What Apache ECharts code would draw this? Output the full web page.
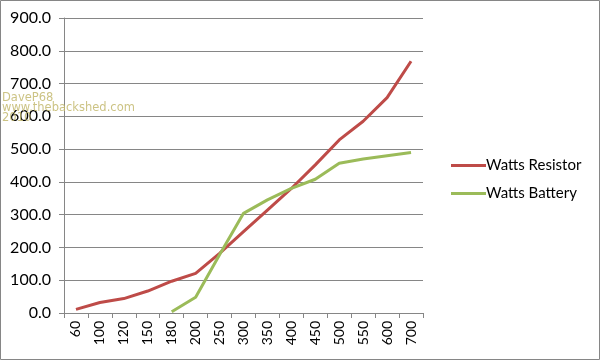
<!DOCTYPE html>
<html><head><meta charset="utf-8">
<script src="https://cdn.jsdelivr.net/npm/echarts@6/dist/echarts.min.js"></script>
<style>html,body{margin:0;padding:0;background:#fff}#c{width:601px;height:361px}</style>
</head><body><div id="c"></div>
<script>
const categories = ['60','100','120','150','180','200','250','300','350','400','450','500','550','600','700'];
const wattsResistor = [11,32,44,67,97,121,182,248,314,380,452,528,585,657,768];
const wattsBattery = [null,null,null,null,4,48,178,304,345,380,408,457,470,480,490];
const yTicks = {min:0, max:900, interval:100};
const watermark = ['DaveP68','www.thebackshed.com','2010'];

const FONT = 'Lato, "Open Sans", sans-serif';
const chart = echarts.init(document.getElementById('c'), null, {renderer:'canvas'});
chart.setOption({
  animation:false,
  backgroundColor:'#fff',
  grid:{left:64, right:178, top:18, bottom:48, containLabel:false},
  legend:{
    orient:'vertical', left:446, top:153, itemGap:13,
    itemWidth:35, itemHeight:15,
    icon:'path://M0,0L35,0L35,3L0,3Z',
    textStyle:{fontFamily:FONT, fontSize:15, color:'#000', padding:[0,0,0,-5]},
    data:['Watts Resistor','Watts Battery']
  },
  xAxis:{
    type:'category', data:categories, boundaryGap:true,
    axisLine:{lineStyle:{color:'#868686', width:1}},
    axisTick:{show:true, alignWithLabel:false, length:5, lineStyle:{color:'#868686'}},
    axisLabel:{rotate:90, fontFamily:FONT, fontSize:14, color:'#000', margin:8, interval:0}
  },
  yAxis:{
    type:'value', min:yTicks.min, max:yTicks.max, interval:yTicks.interval,
    axisLine:{show:true, lineStyle:{color:'#868686'}},
    axisTick:{show:true, length:5, lineStyle:{color:'#868686'}},
    splitLine:{lineStyle:{color:'#868686', width:1}},
    axisLabel:{fontFamily:FONT, fontSize:16, color:'#000', margin:13, formatter:v=>v.toFixed(1)}
  },
  series:[
    {name:'Watts Resistor', type:'line', data:wattsResistor, symbol:'none',
     lineStyle:{color:'#BE4B48', width:3}, itemStyle:{color:'#BE4B48'}, z:3},
    {name:'Watts Battery', type:'line', data:wattsBattery, symbol:'none', connectNulls:false,
     lineStyle:{color:'#9BBB59', width:3}, itemStyle:{color:'#9BBB59'}, z:4}
  ],
  graphic:[
    {type:'rect', shape:{x:0.5, y:0.5, width:599, height:359}, style:{fill:'none', stroke:'#868686', lineWidth:1}, silent:true},
    {type:'text', left:2, top:92, z:100, style:{text:watermark.join('\n'), fontFamily:'"DejaVu Sans", sans-serif', fontSize:11.5, lineHeight:10, fill:'rgba(195,185,110,0.85)'}}
  ]
});
</script></body></html>
